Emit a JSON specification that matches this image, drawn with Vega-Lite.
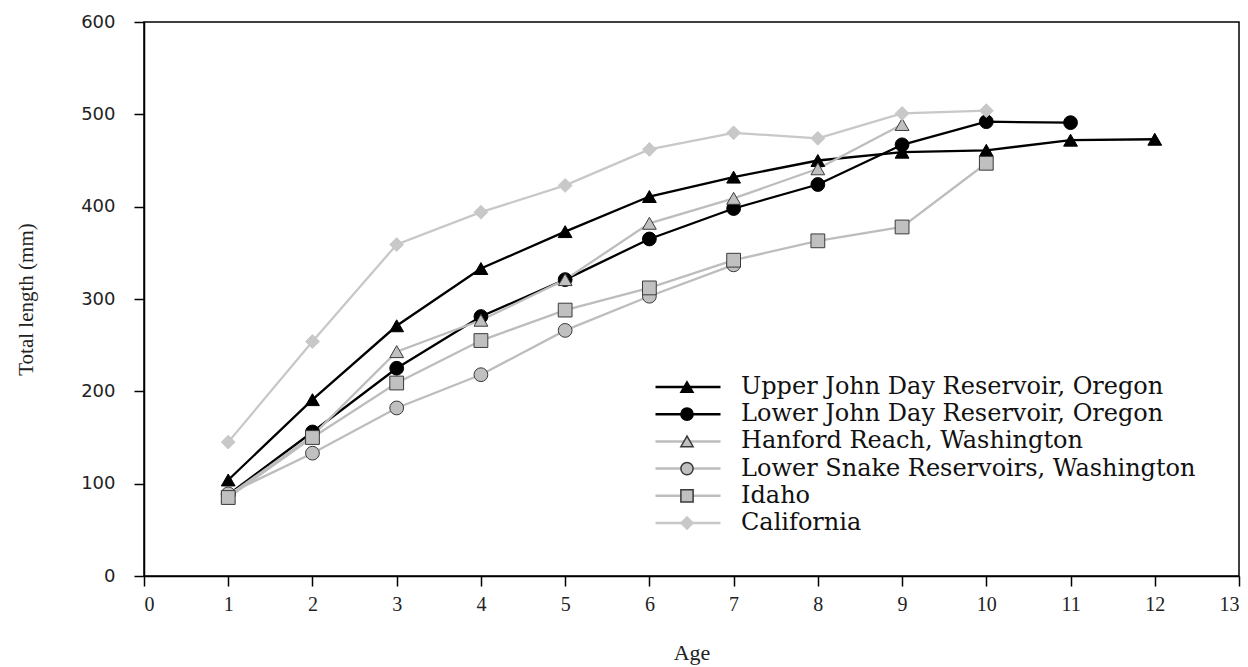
{
  "$schema": "https://vega.github.io/schema/vega-lite/v6.json",
  "autosize": "none",
  "width": 1095,
  "height": 554,
  "padding": {"left": 144, "top": 22, "right": 9, "bottom": 91},
  "background": "white",
  "config": {
    "view": {"stroke": "black", "strokeWidth": 1.5},
    "axis": {
      "grid": false,
      "domainColor": "black",
      "domainWidth": 1.5,
      "tickColor": "black",
      "tickWidth": 1.5,
      "tickSize": 10,
      "labelColor": "#222",
      "titleColor": "#222",
      "titleFontWeight": "normal"
    },
    "legend": {"padding": 0, "titleLimit": 0}
  },
  "data": {
    "values": [
      {"site": "Upper John Day Reservoir, Oregon", "age": 1, "length": 104},
      {"site": "Upper John Day Reservoir, Oregon", "age": 2, "length": 191},
      {"site": "Upper John Day Reservoir, Oregon", "age": 3, "length": 271},
      {"site": "Upper John Day Reservoir, Oregon", "age": 4, "length": 333},
      {"site": "Upper John Day Reservoir, Oregon", "age": 5, "length": 373},
      {"site": "Upper John Day Reservoir, Oregon", "age": 6, "length": 411},
      {"site": "Upper John Day Reservoir, Oregon", "age": 7, "length": 432},
      {"site": "Upper John Day Reservoir, Oregon", "age": 8, "length": 450},
      {"site": "Upper John Day Reservoir, Oregon", "age": 9, "length": 459},
      {"site": "Upper John Day Reservoir, Oregon", "age": 10, "length": 461},
      {"site": "Upper John Day Reservoir, Oregon", "age": 11, "length": 472},
      {"site": "Upper John Day Reservoir, Oregon", "age": 12, "length": 473},
      {"site": "Lower John Day Reservoir, Oregon", "age": 1, "length": 88},
      {"site": "Lower John Day Reservoir, Oregon", "age": 2, "length": 156},
      {"site": "Lower John Day Reservoir, Oregon", "age": 3, "length": 225},
      {"site": "Lower John Day Reservoir, Oregon", "age": 4, "length": 281},
      {"site": "Lower John Day Reservoir, Oregon", "age": 5, "length": 321},
      {"site": "Lower John Day Reservoir, Oregon", "age": 6, "length": 365},
      {"site": "Lower John Day Reservoir, Oregon", "age": 7, "length": 398},
      {"site": "Lower John Day Reservoir, Oregon", "age": 8, "length": 424},
      {"site": "Lower John Day Reservoir, Oregon", "age": 9, "length": 467},
      {"site": "Lower John Day Reservoir, Oregon", "age": 10, "length": 492},
      {"site": "Lower John Day Reservoir, Oregon", "age": 11, "length": 491},
      {"site": "Hanford Reach, Washington", "age": 1, "length": 87},
      {"site": "Hanford Reach, Washington", "age": 2, "length": 152},
      {"site": "Hanford Reach, Washington", "age": 3, "length": 243},
      {"site": "Hanford Reach, Washington", "age": 4, "length": 277},
      {"site": "Hanford Reach, Washington", "age": 5, "length": 321},
      {"site": "Hanford Reach, Washington", "age": 6, "length": 382},
      {"site": "Hanford Reach, Washington", "age": 7, "length": 409},
      {"site": "Hanford Reach, Washington", "age": 8, "length": 441},
      {"site": "Hanford Reach, Washington", "age": 9, "length": 489},
      {"site": "Lower Snake Reservoirs, Washington", "age": 1, "length": 89},
      {"site": "Lower Snake Reservoirs, Washington", "age": 2, "length": 133},
      {"site": "Lower Snake Reservoirs, Washington", "age": 3, "length": 182},
      {"site": "Lower Snake Reservoirs, Washington", "age": 4, "length": 218},
      {"site": "Lower Snake Reservoirs, Washington", "age": 5, "length": 266},
      {"site": "Lower Snake Reservoirs, Washington", "age": 6, "length": 303},
      {"site": "Lower Snake Reservoirs, Washington", "age": 7, "length": 337},
      {"site": "Idaho", "age": 1, "length": 85},
      {"site": "Idaho", "age": 2, "length": 150},
      {"site": "Idaho", "age": 3, "length": 209},
      {"site": "Idaho", "age": 4, "length": 255},
      {"site": "Idaho", "age": 5, "length": 288},
      {"site": "Idaho", "age": 6, "length": 312},
      {"site": "Idaho", "age": 7, "length": 342},
      {"site": "Idaho", "age": 8, "length": 363},
      {"site": "Idaho", "age": 9, "length": 378},
      {"site": "Idaho", "age": 10, "length": 447},
      {"site": "California", "age": 1, "length": 145},
      {"site": "California", "age": 2, "length": 254},
      {"site": "California", "age": 3, "length": 359},
      {"site": "California", "age": 4, "length": 394},
      {"site": "California", "age": 5, "length": 423},
      {"site": "California", "age": 6, "length": 462},
      {"site": "California", "age": 7, "length": 480},
      {"site": "California", "age": 8, "length": 474},
      {"site": "California", "age": 9, "length": 501},
      {"site": "California", "age": 10, "length": 504}
    ]
  },
  "encoding": {
    "x": {
      "field": "age", "type": "quantitative",
      "scale": {"domain": [0, 13], "nice": false},
      "axis": {
        "title": "Age", "values": [0,1,2,3,4,5,6,7,8,9,10,11,12,13],
        "labelFont": "Liberation Serif", "labelFontSize": 20, "labelPadding": 8,
        "titleFont": "Liberation Serif", "titleFontSize": 22, "titlePadding": 28
      }
    },
    "y": {
      "field": "length", "type": "quantitative",
      "scale": {"domain": [0, 600], "nice": false},
      "axis": {
        "title": "Total length (mm)", "values": [0,100,200,300,400,500,600],
        "labelFont": "DejaVu Sans", "labelFontSize": 18, "labelPadding": 19,
        "titleFont": "Liberation Serif", "titleFontSize": 21, "titlePadding": 44
      }
    }
  },
  "layer": [
    {
      "mark": {"type": "line", "strokeWidth": 2.3},
      "encoding": {
        "color": {
          "field": "site", "type": "nominal",
          "sort": ["Upper John Day Reservoir, Oregon", "Lower John Day Reservoir, Oregon", "Hanford Reach, Washington", "Lower Snake Reservoirs, Washington", "Idaho", "California"],
          "scale": {
            "range": ["#000000", "#000000", "#bdbdbd", "#bdbdbd", "#bdbdbd", "#c8c8c8"]
          },
          "legend": {
            "title": null, "orient": "none", "legendX": 506, "legendY": 353,
            "symbolType": "M-5,0H5", "symbolSize": 169, "symbolOffset": 26,
            "symbolStrokeWidth": 2.5, "labelOffset": 41,
            "labelFont": "DejaVu Serif", "labelFontSize": 24, "labelColor": "#111",
            "labelLimit": 0, "rowPadding": 3.2
          }
        }
      }
    },
    {
      "mark": {"type": "point", "filled": true, "size": 190, "strokeWidth": 1, "opacity": 1},
      "encoding": {
        "shape": {
          "field": "site", "type": "nominal",
          "scale": {
            "domain": ["Upper John Day Reservoir, Oregon", "Lower John Day Reservoir, Oregon", "Hanford Reach, Washington", "Lower Snake Reservoirs, Washington", "Idaho", "California"],
            "range": ["triangle-up", "circle", "triangle-up", "circle", "square", "diamond"]
          },
          "legend": {
            "title": null, "orient": "none", "legendX": 531, "legendY": 353,
            "symbolSize": 150, "labelOffset": 41,
            "labelFont": "DejaVu Serif", "labelFontSize": 24, "labelOpacity": 0,
            "labelLimit": 0, "rowPadding": 3.2
          }
        },
        "fill": {
          "field": "site", "type": "nominal",
          "scale": {
            "domain": ["Upper John Day Reservoir, Oregon", "Lower John Day Reservoir, Oregon", "Hanford Reach, Washington", "Lower Snake Reservoirs, Washington", "Idaho", "California"],
            "range": ["#000000", "#000000", "#c0c0c0", "#c0c0c0", "#c0c0c0", "#c8c8c8"]
          }
        },
        "stroke": {
          "field": "site", "type": "nominal",
          "scale": {
            "domain": ["Upper John Day Reservoir, Oregon", "Lower John Day Reservoir, Oregon", "Hanford Reach, Washington", "Lower Snake Reservoirs, Washington", "Idaho", "California"],
            "range": ["#000000", "#000000", "#3a3a3a", "#3a3a3a", "#3a3a3a", "#c8c8c8"]
          }
        }
      }
    }
  ]
}
